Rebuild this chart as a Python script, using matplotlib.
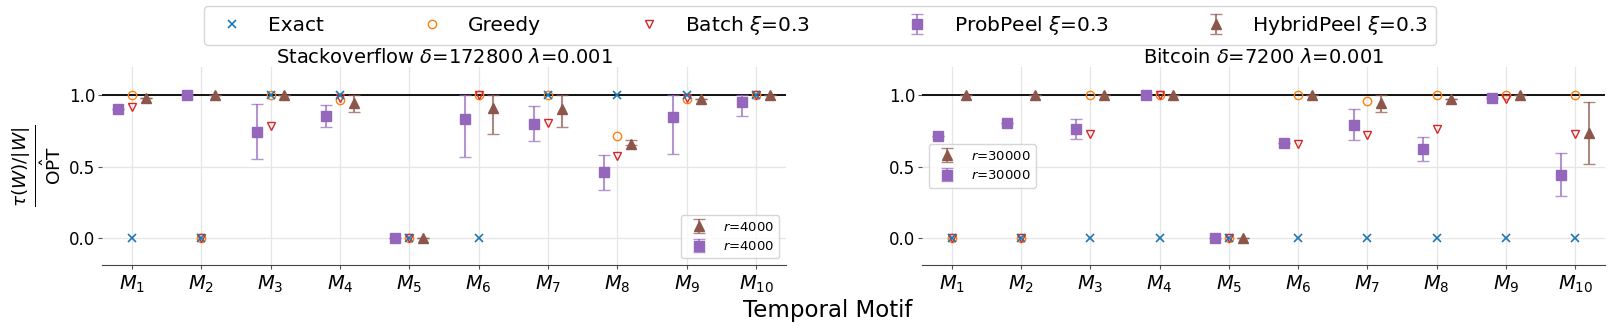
import matplotlib

matplotlib.use("Agg")
import matplotlib.pyplot as plt
import numpy as np

motifs = [f"$M_{{{i}}}$" for i in range(1, 11)]
methods = ["Exact", "Greedy", r"Batch $\xi$=0.3", r"ProbPeel $\xi$=0.3", r"HybridPeel $\xi$=0.3"]

# Stackoverflow
so_exact = [0, 0, 1, 1, 0, 0, 1, 1, 1, 1]
so_greedy = [1.0, 0, 1.0, 0.965, 0, 1.0, 1.0, 0.715, 0.97, 1.0]
so_batch = [0.912, 0, 0.784, 0.975, 0, 1.0, 0.805, 0.573, 0.98, 1.0]
so_prob = [0.898, 1.0, 0.742, 0.854, 0, 0.828, 0.796, 0.459, 0.847, 0.951]
so_prob_lo = [0.898, 1.0, 0.555, 0.775, 0, 0.566, 0.677, 0.339, 0.587, 0.852]
so_prob_hi = [0.898, 1.0, 0.933, 0.93, 0, 1.0, 0.919, 0.582, 1.0, 1.0]
so_hybrid = [0.975, 1.0, 1.0, 0.94, 0, 0.905, 0.898, 0.659, 0.972, 1.0]
so_hybrid_lo = [0.975, 1.0, 1.0, 0.88, 0, 0.729, 0.775, 0.65, 0.972, 1.0]
so_hybrid_hi = [0.975, 1.0, 1.0, 1.0, 0, 1.0, 1.0, 0.684, 0.972, 1.0]

# Bitcoin
bc_exact = [0, 0, 0, 0, 0, 0, 0, 0, 0, 0]
bc_greedy = [0, 0, 1.0, 1.0, 0, 1.0, 0.958, 1.0, 1.0, 1.0]
bc_batch = [0, 0, 0.726, 1.0, 0, 0.659, 0.719, 0.763, 0.967, 0.724]
bc_prob = [0.715, 0.803, 0.761, 1.0, 0, 0.666, 0.791, 0.619, 0.977, 0.443]
bc_prob_lo = [0.715, 0.803, 0.689, 1.0, 0, 0.666, 0.682, 0.536, 0.977, 0.292]
bc_prob_hi = [0.715, 0.803, 0.828, 1.0, 0, 0.666, 0.898, 0.708, 0.977, 0.594]
bc_hybrid = [1.0, 1.0, 1.0, 1.0, 0, 1.0, 0.94, 0.972, 1.0, 0.731]
bc_hybrid_lo = [1.0, 1.0, 1.0, 1.0, 0, 1.0, 0.88, 0.972, 1.0, 0.52]
bc_hybrid_hi = [1.0, 1.0, 1.0, 1.0, 0, 1.0, 1.0, 0.972, 1.0, 0.951]

panels = [
    (r"Stackoverflow $\delta$=172800 $\lambda$=0.001", "$r$=4000",
     so_exact, so_greedy, so_batch, so_prob, so_prob_lo, so_prob_hi,
     so_hybrid, so_hybrid_lo, so_hybrid_hi, "lower right"),
    (r"Bitcoin $\delta$=7200 $\lambda$=0.001", "$r$=30000",
     bc_exact, bc_greedy, bc_batch, bc_prob, bc_prob_lo, bc_prob_hi,
     bc_hybrid, bc_hybrid_lo, bc_hybrid_hi, "center left"),
]

W, H = 1611, 330
fig = plt.figure(figsize=(W / 100, H / 100), dpi=100)
ax_left = fig.add_axes([102 / W, 1 - 265 / H, 684 / W, 198 / H])
ax_right = fig.add_axes([922 / W, 1 - 265 / H, 683 / W, 198 / H])

x = np.arange(1, 11)
handles = None
for ax, (title, rlab, ex, gr, ba, pr, prlo, prhi, hy, hylo, hyhi, loc) in zip(
    [ax_left, ax_right], panels
):
    pr, prlo, prhi = np.array(pr), np.array(prlo), np.array(prhi)
    hy, hylo, hyhi = np.array(hy), np.array(hylo), np.array(hyhi)

    ax.axhline(1.0, color="black", linewidth=1.3, zorder=1)
    h_gr, = ax.plot(x, gr, "o", mfc="none", mec="#ff7f0e", ms=6, linestyle="none", zorder=3)
    h_ba, = ax.plot(x, ba, "v", mfc="none", mec="#d62728", ms=6, linestyle="none", zorder=3)
    h_ex, = ax.plot(x, ex, "x", color="#1f77b4", ms=6, mew=1.2, linestyle="none", zorder=4)
    h_pr = ax.errorbar(x - 0.2, pr, yerr=[pr - prlo, prhi - pr], fmt="s", color="#9467bd",
                       ecolor=("#9467bd", 0.7), ms=7, capsize=4, elinewidth=1.5, zorder=3)
    h_hy = ax.errorbar(x + 0.2, hy, yerr=[hy - hylo, hyhi - hy], fmt="^", color="#8c564b",
                       ecolor=("#8c564b", 0.7), ms=7, capsize=4, elinewidth=1.5, zorder=3)
    handles = [h_ex, h_gr, h_ba, h_pr, h_hy]

    ax.set_xlim(0.57, 10.43)
    ax.set_ylim(-0.186, 1.193)
    ax.set_xticks(x)
    ax.set_xticklabels(motifs, fontsize=14)
    ax.set_yticks([0.0, 0.5, 1.0])
    ax.tick_params(axis="y", labelsize=12, length=3, pad=2, color="#555555")
    ax.tick_params(axis="x", length=3, pad=3, color="#555555")
    ax.grid(True, color="#e6e6e6", linewidth=0.9)
    ax.set_axisbelow(True)
    for side in ["top", "right", "left"]:
        ax.spines[side].set_visible(False)
    ax.spines["bottom"].set_color("#444444")
    ax.set_title(title, fontsize=14, pad=1)
    ax.legend([h_hy, h_pr], [rlab, rlab], loc=loc, fontsize=9.5, borderaxespad=0.5)

ax_left.set_ylabel(r"$\frac{\tau(W)/|W|}{\hat{\mathrm{OPT}}}$", fontsize=19)

fig.legend(handles, methods, ncol=5, loc="upper center", bbox_to_anchor=(820 / W, 1 - 6 / H),
           borderaxespad=0, fontsize=14.5, columnspacing=4.35)
fig.text(828 / W, 1 - 310 / H, "Temporal Motif", ha="center", va="center", fontsize=16.5)

fig.savefig("out.png", dpi=100)
